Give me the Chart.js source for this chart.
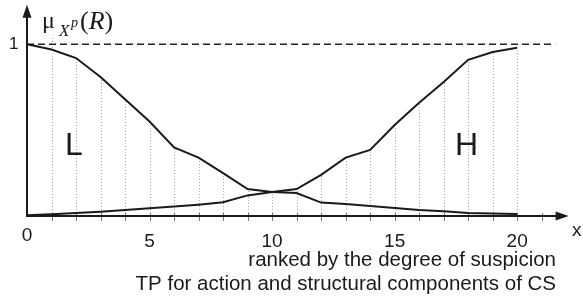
<!DOCTYPE html>
<html>
<head>
<meta charset="utf-8">
<script src="https://cdn.jsdelivr.net/npm/chart.js@4.4.0/dist/chart.umd.min.js"></script>
<style>
  html, body { margin: 0; padding: 0; background: #fff; }
  #wrap { width: 583px; height: 296px; }
</style>
</head>
<body>
<div id="wrap"><canvas id="chart-mu"></canvas></div>
<script>
// ranks of the components (x axis)
var ranks = [0, 1, 2, 3, 4, 5, 6, 7, 8, 9, 10, 11, 12, 13, 14, 15, 16, 17, 18, 19, 20];
// membership "L" (low) - falls from 1
var muLow = [1.0, 0.97, 0.92, 0.81, 0.68, 0.55, 0.40, 0.34, 0.25, 0.157, 0.14, 0.134, 0.078, 0.07, 0.058, 0.047, 0.035, 0.028, 0.018, 0.015, 0.012];
// membership "H" (high) - rises to 1
var muHigh = [0.005, 0.01, 0.018, 0.025, 0.035, 0.045, 0.055, 0.066, 0.08, 0.12, 0.14, 0.157, 0.24, 0.34, 0.385, 0.53, 0.66, 0.78, 0.91, 0.955, 0.98];
var tickValues = [0, 5, 10, 15, 20];
var tickLabels = ["0", "5", "10", "15", "20"];
var axisTitle = "x";
var xCaption = ["ranked by the degree of suspicion", "TP for action and structural components of CS"];
var areaLabels = ["L", "H"];

function pts(ys) {
  var out = [];
  for (var i = 0; i < ranks.length; i++) out.push({x: ranks[i], y: ys[i]});
  return out;
}

// draws the axes, arrows, dotted guides and all the text
var decorPlugin = {
  id: 'decor',
  beforeDatasetsDraw: function(chart) {
    var ctx = chart.ctx, xs = chart.scales.x, ys = chart.scales.y;
    var y0 = ys.getPixelForValue(0), y1 = ys.getPixelForValue(1);
    var x0 = xs.getPixelForValue(0);
    ctx.save();
    // dotted verticals up to the upper curve
    ctx.strokeStyle = '#a8a8a8';
    ctx.lineWidth = 1;
    ctx.setLineDash([1, 2]);
    for (var i = 1; i < ranks.length; i++) {
      var px = Math.round(xs.getPixelForValue(ranks[i])) + 0.5;
      var top = Math.max(muLow[i], muHigh[i]);
      if (i == 1) top = 1.05;
      ctx.beginPath();
      ctx.moveTo(px, y0);
      ctx.lineTo(px, ys.getPixelForValue(top));
      ctx.stroke();
    }
    // dashed level 1
    ctx.strokeStyle = '#222';
    ctx.lineWidth = 1.5;
    ctx.setLineDash([7, 4]);
    ctx.beginPath();
    ctx.moveTo(x0, y1);
    ctx.lineTo(xs.getPixelForValue(21.55), y1);
    ctx.stroke();
    ctx.setLineDash([]);
    // small ticks
    ctx.strokeStyle = '#777';
    ctx.lineWidth = 1;
    for (var t = 1; t <= 21; t++) {
      var tx = Math.round(xs.getPixelForValue(t)) + 0.5;
      ctx.beginPath();
      ctx.moveTo(tx, y0 - 3);
      ctx.lineTo(tx, y0 + 5);
      ctx.stroke();
    }
    ctx.restore();
  },
  afterDatasetsDraw: function(chart) {
    var ctx = chart.ctx, xs = chart.scales.x, ys = chart.scales.y;
    var y0 = ys.getPixelForValue(0), y1 = ys.getPixelForValue(1);
    var x0 = xs.getPixelForValue(0);
    var xEnd = xs.getPixelForValue(22.1);
    ctx.save();
    ctx.strokeStyle = '#1a1a1a';
    ctx.fillStyle = '#1a1a1a';
    ctx.lineWidth = 2;
    // x axis + arrow
    ctx.beginPath();
    ctx.moveTo(x0, y0);
    ctx.lineTo(xEnd - 10, y0);
    ctx.stroke();
    ctx.beginPath();
    ctx.moveTo(xEnd, y0);
    ctx.lineTo(xEnd - 13, y0 - 4.5);
    ctx.lineTo(xEnd - 13, y0 + 4.5);
    ctx.closePath();
    ctx.fill();
    // y axis + arrow
    var yTop = ys.getPixelForValue(1.23);
    ctx.beginPath();
    ctx.moveTo(x0, y0 + 1);
    ctx.lineTo(x0, yTop + 10);
    ctx.stroke();
    ctx.beginPath();
    ctx.moveTo(x0, yTop);
    ctx.lineTo(x0 - 4.5, yTop + 13);
    ctx.lineTo(x0 + 4.5, yTop + 13);
    ctx.closePath();
    ctx.fill();

    // text
    ctx.fillStyle = '#1a1a1a';
    ctx.textBaseline = 'alphabetic';
    ctx.font = '19px "Liberation Sans", Arial, sans-serif';
    ctx.textAlign = 'center';
    for (var k = 0; k < tickValues.length; k++) {
      var dy = k == 0 ? 241 : 247;
      ctx.fillText(tickLabels[k], xs.getPixelForValue(tickValues[k]), dy);
    }
    ctx.textAlign = 'left';
    ctx.fillText(axisTitle, 572, 236);
    ctx.font = '17px "Liberation Sans", Arial, sans-serif';
    ctx.fillText("1", 9, 49);
    ctx.font = '20.5px "Liberation Sans", Arial, sans-serif';
    ctx.textAlign = 'right';
    ctx.fillText(xCaption[0], 556, 266);
    ctx.fillText(xCaption[1], 556, 290);
    // L and H
    ctx.font = '32px "Liberation Sans", Arial, sans-serif';
    ctx.textAlign = 'left';
    ctx.fillText(areaLabels[0], 65, 155);
    ctx.fillText(areaLabels[1], 455, 155);
    // mu_{X^p}(R)
    ctx.font = '24px "Liberation Serif", "Times New Roman", serif';
    ctx.fillText("\u03bc", 42, 28);
    ctx.font = 'italic 17px "Liberation Serif", "Times New Roman", serif';
    ctx.fillText("X", 59, 36);
    ctx.font = 'italic 14px "Liberation Serif", "Times New Roman", serif';
    ctx.fillText("p", 71, 27);
    var px0 = 80;
    ctx.font = '26px "Liberation Serif", "Times New Roman", serif';
    ctx.fillText("(", px0, 29);
    px0 += ctx.measureText("(").width;
    ctx.font = 'italic 26px "Liberation Serif", "Times New Roman", serif';
    ctx.fillText("R", px0, 29);
    px0 += ctx.measureText("R").width;
    ctx.font = '26px "Liberation Serif", "Times New Roman", serif';
    ctx.fillText(")", px0, 29);
    ctx.restore();
  }
};

function initChart() {
  var ctx = document.getElementById("chart-mu").getContext("2d");
  new Chart(ctx, {
    type: "line",
    data: {
      datasets: [{
        label: "L",
        data: pts(muLow),
        borderColor: '#1a1a1a',
        borderWidth: 2,
        pointRadius: 0,
        tension: 0,
        fill: false
      }, {
        label: "H",
        data: pts(muHigh),
        borderColor: '#1a1a1a',
        borderWidth: 2,
        pointRadius: 0,
        tension: 0,
        fill: false
      }]
    },
    options: {
      responsive: true,
      maintainAspectRatio: false,
      animation: false,
      layout: { padding: { left: 27, right: 7, top: 4, bottom: 80 } },
      plugins: { legend: { display: false }, tooltip: { enabled: false } },
      scales: {
        x: { type: 'linear', min: 0, max: 22.4, display: false },
        y: { min: 0, max: 1.235, display: false }
      }
    },
    plugins: [decorPlugin]
  });
}

window.addEventListener('load', initChart);
</script>
</body>
</html>
